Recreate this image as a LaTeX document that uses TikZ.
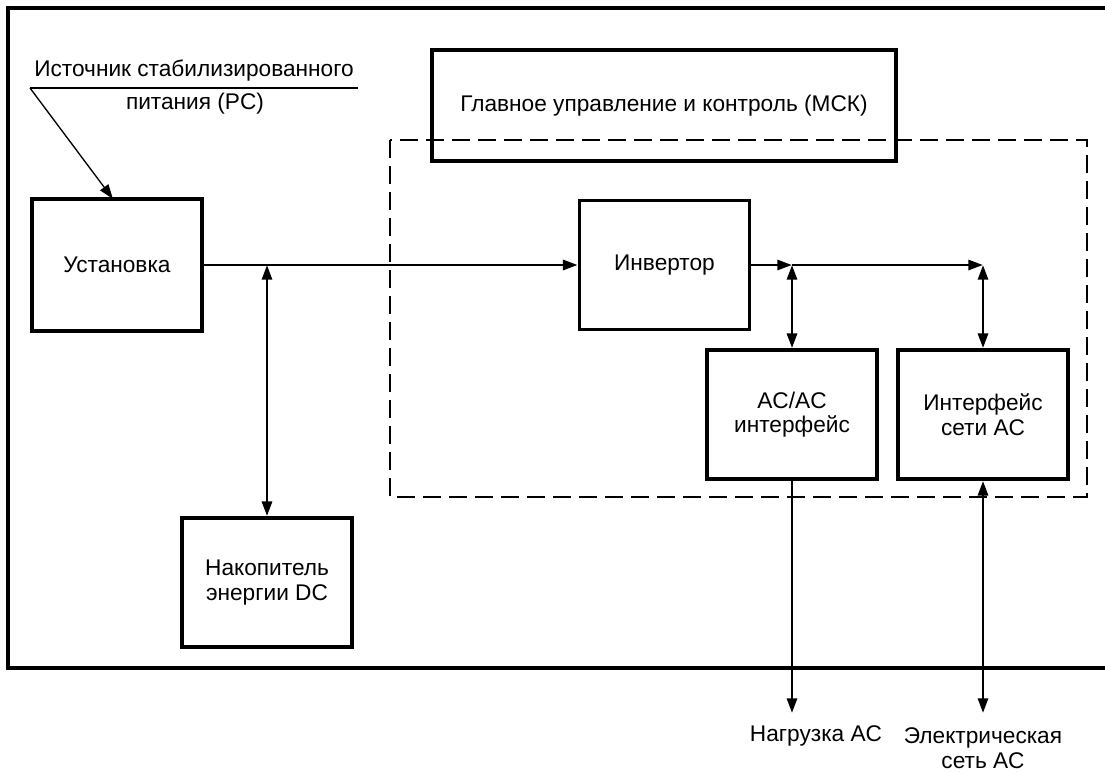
\documentclass[tikz,border=0pt]{standalone}
\usepackage{fontspec}
\setmainfont{Liberation Sans}
\usetikzlibrary{arrows.meta}
\usetikzlibrary{positioning}
\tikzset{>={Triangle[length=11pt,width=7.5pt]},
every node/.style={ % Text of all labels
font=\fontsize{17}{18.5}\selectfont},
block/.style={ % Boxes of the scheme
draw,
line width=2.8pt,
minimum width=127.5pt,
minimum height=96.75pt,
inner sep=0pt,
align=center},
label/.style={ % Free texts
align=center,
inner sep=0pt},
ctrl/.style={ % Dashed border of the control part
line width=1.8pt,
dash pattern=on 13.5pt off 6pt},
conn/.style={ % Power lines between the boxes
line width=2.1pt},
thinconn/.style={ % Leader of the source label
line width=1pt}}

\begin{document}
\begin{tikzpicture}[x=0.75pt,y=-0.75pt]
\useasboundingbox (0,0) rectangle (1105,772);
\draw[line width=3pt] (1105,8) -- (8,8) -- (8,668) -- (1105,668);
\draw[ctrl] (390,140) rectangle (1087,497);

\node[block, minimum width=348pt, minimum height=83pt] (mck) at (664,105.5) {Главное управление и контроль (МСК)};
\node[block, minimum height=99pt] (inst) at (117,265) {Установка};
\node[block] (inv) at (664.5,265) {Инвертор};
\node[block] (acac) at (792,414.5) {AC/AC\\интерфейс};
\node[block] (grid) at (983,414.5) {Интерфейс\\сети AC};
\node[block] (stor) at (267,582.5) {Накопитель\\энергии DC};

\node[label] (srctop) at (194,71) {Источник стабилизированного};
\node[label] (srcbot) at (195,104) {питания (PC)};
\node[label] (loadtxt) at (816,736) {Нагрузка AC};
\node[label] (mainstxt) at (983,748) {Электрическая\\сеть AC};

\coordinate (src) at (30,88);
\coordinate (srcend) at (358,88);
\coordinate (instin) at (113,199);
\coordinate (j1) at (267,265);
\coordinate (j2) at (792,265);
\coordinate (j3) at (983,265);
\coordinate (load) at (792,713);
\coordinate (mains) at (983,713);

\draw[thinconn] (src) -- (srcend);
\draw[thinconn, ->] (src) -- (instin);
\draw[conn, ->] (inst) -- (inv);
\draw[conn, <->] (j1) -- (stor);
\draw[conn, ->] (inv) -- (j2);
\draw[conn, ->] (j2) -- (j3);
\draw[conn, <->] (j2) -- (acac);
\draw[conn, <->] (j3) -- (grid);
\draw[conn, ->] (acac) -- (load);
\draw[conn, <->] (grid) -- (mains);
\end{tikzpicture}
\end{document}
